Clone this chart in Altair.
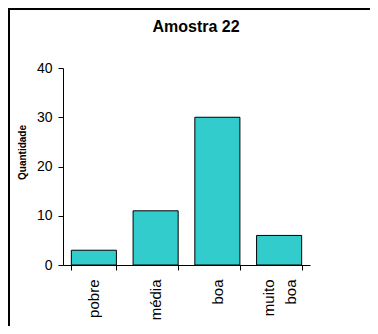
import altair as alt
import pandas as pd

chart_title = "Amostra 22"
categories = ["pobre", "média", "boa", "muito boa"]
values = [3, 11, 30, 6]
y_ticks = [0, 10, 20, 30, 40]

df = pd.DataFrame({"cat": categories, "val": values})

FONT = "Liberation Sans"

bars = alt.Chart(df).mark_bar(
    fill="#33CCCC", stroke="black", strokeWidth=1
).encode(
    x=alt.X(
        "cat:N",
        sort=categories,
        scale=alt.Scale(paddingInner=0.27, paddingOuter=0.135),
        axis=alt.Axis(
            title=None,
            labelAngle=270,
            labelAlign="right",
            labelBaseline="middle",
            labelFont=FONT,
            labelFontSize=15,
            labelColor="black",
            labelPadding=9,
            labelLineHeight=22,
            labelOffset={"condition": {"test": "datum.value == 'muito boa'", "value": -11}, "value": 0},
            labelExpr="datum.label == 'muito boa' ? ['muito', 'boa'] : datum.label",
            tickBand="extent",
            tickSize=5,
            tickColor="black",
            domainColor="black",
        ),
    ),
    y=alt.Y(
        "val:Q",
        scale=alt.Scale(domain=[0, 40], nice=False),
        axis=alt.Axis(
            title="Quantidade",
            titleFont=FONT,
            titleFontSize=10,
            titleFontWeight="bold",
            titleColor="black",
            titleX=-41,
            titleY=84,
            titleAngle=270,
            titleAlign="center",
            titleBaseline="middle",
            values=y_ticks,
            labelFont=FONT,
            labelFontSize=14,
            labelColor="black",
            labelPadding=6,
            tickSize=5,
            tickColor="black",
            domainColor="black",
            grid=False,
        ),
    ),
)

border = alt.Chart(alt.Data(values=[{"a": 1}])).mark_rect(
    fill="transparent", stroke="black", strokeWidth=2
).encode(
    x=alt.value(-54),
    x2=alt.value(400),
    y=alt.value(-59),
    y2=alt.value(400),
)

title = alt.Chart(alt.Data(values=[{"t": chart_title}])).mark_text(
    font=FONT, fontSize=16, fontWeight="bold", color="black",
    align="center", baseline="alphabetic",
).encode(
    text="t:N",
    x=alt.value(133),
    y=alt.value(-36),
)

chart = alt.layer(border, bars, title).properties(
    width=247,
    height=197,
    padding={"left": 55, "top": 60, "right": 60, "bottom": 61},
    autosize=alt.AutoSizeParams(type="none"),
).configure(background="white").configure_view(stroke=None)

chart.save("out.html", embed_options={"renderer": "svg", "actions": False})
